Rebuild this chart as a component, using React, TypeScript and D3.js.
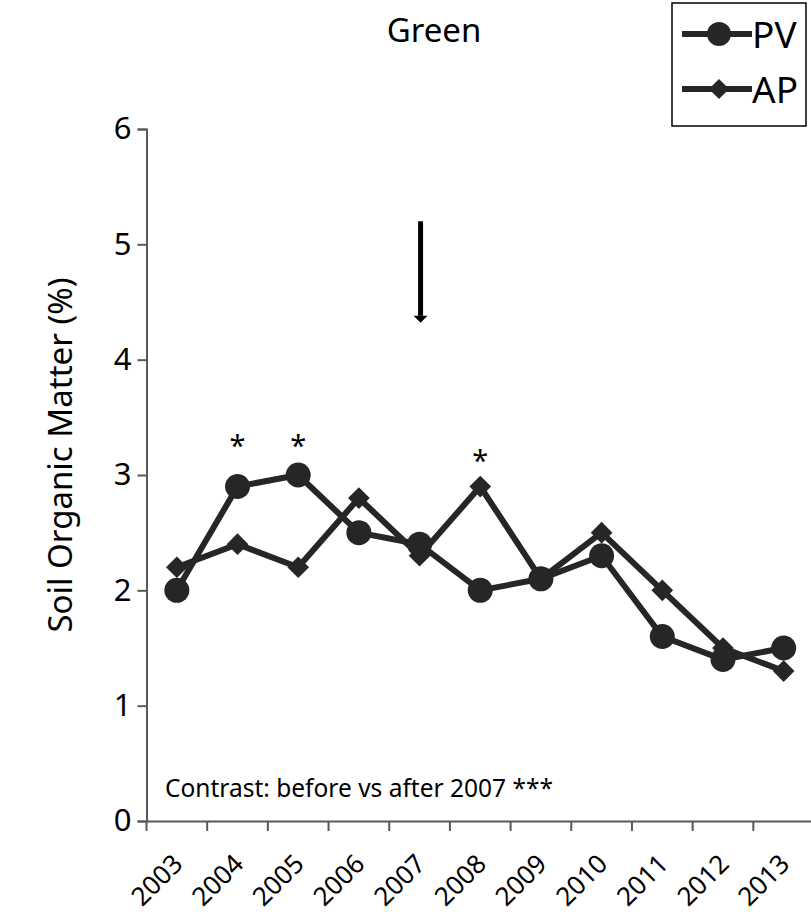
import React, { useEffect, useRef } from 'react'
import * as d3 from 'd3'

const years = ['2003', '2004', '2005', '2006', '2007', '2008', '2009', '2010', '2011', '2012', '2013']
const pvValues = [2.0, 2.9, 3.0, 2.5, 2.4, 2.0, 2.1, 2.3, 1.6, 1.4, 1.5]
const apValues = [2.2, 2.4, 2.2, 2.8, 2.3, 2.9, 2.1, 2.5, 2.0, 1.5, 1.3]
const yTicks = [0, 1, 2, 3, 4, 5, 6]
// significance marks: year and height of the asterisk
const starYears = ['2004', '2005', '2008']
const starLevels = [3.3, 3.3, 3.17]

export default function App() {
  const svgRef = useRef<SVGSVGElement | null>(null)

  useEffect(() => {
    if (!svgRef.current) return
    document.body.style.margin = '0'
    const width = 811
    const height = 914
    const font = 'Noto Sans, sans-serif'
    const ink = '#262626'

    const svg = d3.select(svgRef.current)
    svg.selectAll('*').remove()
    svg.attr('width', width).attr('height', height).style('background', '#fff').style('display', 'block')

    const x = d3.scaleBand().domain(years).range([146.5, 814])
    const y = d3.scaleLinear().domain([0, 6]).range([821, 129])

    // Title
    svg.append('text')
      .attr('x', 434).attr('y', 42)
      .attr('text-anchor', 'middle')
      .style('font-family', font).style('font-size', '33px')
      .text('Green')

    // Y axis
    const yAxis = svg.append('g')
      .attr('transform', 'translate(146.5,0)')
      .call(d3.axisLeft(y).tickValues(yTicks).tickSize(9).tickPadding(6).tickFormat(d3.format('d')))
    yAxis.select('.domain').attr('stroke', '#595959').attr('stroke-width', 2)
    yAxis.selectAll('.tick line').attr('stroke', '#595959').attr('stroke-width', 2)
    yAxis.selectAll('text').style('font-family', font).style('font-size', '31px').attr('fill', '#000')

    // X axis
    const xAxis = svg.append('g')
      .attr('transform', 'translate(0,821)')
      .call(d3.axisBottom(x).tickSize(0).tickFormat(d => d))
    xAxis.select('.domain').attr('stroke', '#595959').attr('stroke-width', 2)
    xAxis.selectAll('.tick text')
      .style('font-family', font).style('font-size', '26px').attr('fill', '#000')
      .attr('text-anchor', 'end')
      .attr('transform', 'translate(1,38) rotate(-45)')
      .attr('dy', '0.35em').attr('y', 0)
    // ticks on category boundaries
    svg.append('g')
      .selectAll('line')
      .data(years)
      .enter()
      .append('line')
      .attr('x1', d => x(d) as number).attr('x2', d => x(d) as number)
      .attr('y1', 821).attr('y2', 831)
      .attr('stroke', '#595959').attr('stroke-width', 2)

    // Y axis label
    svg.append('text')
      .attr('transform', 'rotate(-90)')
      .attr('x', -455).attr('y', 72)
      .attr('text-anchor', 'middle')
      .style('font-family', font).style('font-size', '33px')
      .text('Soil Organic Matter (%)')

    const cx = (d: string) => (x(d) as number) + x.bandwidth() / 2

    const line = d3.line<number>()
      .x((_, i) => cx(years[i]))
      .y(d => y(d))

    // AP series
    svg.append('path')
      .datum(apValues)
      .attr('d', line)
      .attr('fill', 'none').attr('stroke', ink).attr('stroke-width', 6)
    svg.append('g')
      .selectAll('path')
      .data(apValues)
      .enter()
      .append('path')
      .attr('d', d3.symbol().type(d3.symbolDiamond2).size(300)())
      .attr('transform', (d, i) => `translate(${cx(years[i])},${y(d)})`)
      .attr('fill', ink)

    // PV series
    svg.append('path')
      .datum(pvValues)
      .attr('d', line)
      .attr('fill', 'none').attr('stroke', ink).attr('stroke-width', 6)
    svg.append('g')
      .selectAll('circle')
      .data(pvValues)
      .enter()
      .append('circle')
      .attr('cx', (_, i) => cx(years[i]))
      .attr('cy', d => y(d))
      .attr('r', 12.5)
      .attr('fill', ink)

    // Asterisks
    svg.append('g')
      .selectAll('text')
      .data(starYears)
      .enter()
      .append('text')
      .attr('x', d => cx(d))
      .attr('y', (_, i) => y(starLevels[i]) + 16)
      .attr('text-anchor', 'middle')
      .style('font-family', font).style('font-size', '29px')
      .text('*')

    // Arrow marking 2007
    const ax = (x('2007') as number) + x.bandwidth() / 2 + 1
    svg.append('line')
      .attr('x1', ax).attr('x2', ax)
      .attr('y1', y(5.2)).attr('y2', y(4.38))
      .attr('stroke', '#000').attr('stroke-width', 5)
    svg.append('path')
      .attr('d', `M${ax - 7},${y(4.38)} L${ax + 7},${y(4.38)} L${ax},${y(4.38) + 7} Z`)
      .attr('fill', '#000')

    // Contrast note
    svg.append('text')
      .attr('x', 165).attr('y', 797)
      .style('font-family', font).style('font-size', '24.5px')
      .text('Contrast: before vs after 2007 ***')

    // Legend
    const legend = svg.append('g')
    legend.append('rect')
      .attr('x', 672).attr('y', 3).attr('width', 134).attr('height', 123)
      .attr('fill', '#fff').attr('stroke', '#000').attr('stroke-width', 1.5)
    const entries = [
      { name: 'PV', yy: 34, shape: 'circle' },
      { name: 'AP', yy: 89, shape: 'diamond' }
    ]
    entries.forEach(e => {
      legend.append('line')
        .attr('x1', 682).attr('x2', 752).attr('y1', e.yy).attr('y2', e.yy)
        .attr('stroke', ink).attr('stroke-width', 6)
      if (e.shape === 'circle') {
        legend.append('circle').attr('cx', 719).attr('cy', e.yy).attr('r', 12).attr('fill', ink)
      } else {
        legend.append('path')
          .attr('d', d3.symbol().type(d3.symbolDiamond2).size(260)())
          .attr('transform', `translate(719,${e.yy})`)
          .attr('fill', ink)
      }
      legend.append('text')
        .attr('x', 752).attr('y', e.yy + 14)
        .style('font-family', font).style('font-size', '37px')
        .text(e.name)
    })
  }, [])

  return <svg ref={svgRef}></svg>
}
